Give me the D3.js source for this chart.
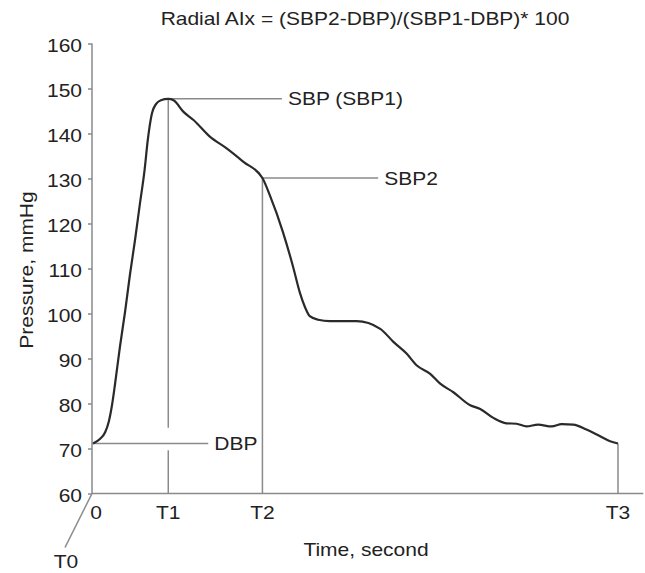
<!DOCTYPE html>
<html>
<head>
<meta charset="utf-8">
<script src="https://cdn.jsdelivr.net/npm/d3@7"></script>
<style>
  html, body { margin: 0; padding: 0; background: #fff; }
  svg { display: block; font-family: "Liberation Sans", Arial, Helvetica, sans-serif; }
</style>
</head>
<body>
<svg id="chart" width="645" height="573"></svg>
<script>
// pulse wave, time in fractions of the T0..T3 interval, pressure in mmHg
const time = [0.002, 0.015, 0.025, 0.032, 0.038, 0.044, 0.053, 0.063, 0.072, 0.082, 0.091, 0.100, 0.106,
  0.114, 0.122, 0.131, 0.145, 0.155, 0.174, 0.193, 0.224, 0.256, 0.288, 0.324, 0.338, 0.363, 0.382, 0.395,
  0.405, 0.414, 0.430, 0.452, 0.503, 0.548, 0.573, 0.598, 0.617, 0.643, 0.662, 0.687, 0.719, 0.738, 0.763,
  0.788, 0.807, 0.826, 0.848, 0.874, 0.893, 0.915, 0.940, 0.966, 0.985, 1.0];
const pressure = [71.1, 72.1, 73.6, 76.0, 79.6, 84.5, 92.5, 100.5, 108.5, 116.5, 124.3, 131.9, 138.5,
  144.5, 146.6, 147.4, 147.7, 147.4, 144.8, 143.0, 139.3, 136.7, 133.7, 130.1, 126.3, 118.1, 110.5, 104.7,
  101.4, 99.4, 98.6, 98.3, 98.3, 96.6, 93.7, 91.1, 88.5, 86.6, 84.4, 82.5, 79.6, 78.8, 76.8,
  75.6, 75.5, 74.9, 75.3, 74.9, 75.4, 75.3, 74.2, 72.7, 71.6, 71.1];

const yTicks = [60, 70, 80, 90, 100, 110, 120, 130, 140, 150, 160];
const xMarks = [{ t: 0, label: '0' }, { t: 0.145, label: 'T1' }, { t: 0.324, label: 'T2' }, { t: 1.0, label: 'T3' }];

// reference levels: name, value, time of the point, where the leader line ends
const levels = [
  { label: 'SBP (SBP1)', v: 147.7, t: 0.145, end: 0.361 },
  { label: 'SBP2', v: 130.1, t: 0.324, end: 0.544 },
  { label: 'DBP', v: 71.1, t: 0, end: 0.221 }
];

const TITLE = 'Radial AIx = (SBP2-DBP)/(SBP1-DBP)* 100';
const GREY = '#8a8a8a', INK = '#222';
const FS = 17.5, SX = 1.2;

const svg = d3.select('#chart');
const x = d3.scaleLinear().domain([0, 1]).range([92, 618]);
const y = d3.scaleLinear().domain([60, 160]).range([493.5, 43.5]);

function label(px, py, s, anchor, rot) {
  return svg.append('text')
    .attr('transform', `translate(${px},${py})${rot ? ` rotate(${rot})` : ''} scale(${SX},1)`)
    .attr('text-anchor', anchor || 'start')
    .attr('font-size', FS)
    .attr('fill', INK)
    .text(s);
}

// title + axis titles
label(365, 25, TITLE, 'middle');
label(366, 556, 'Time, second', 'middle');
label(33, 270, 'Pressure, mmHg', 'middle', -90);

// y axis
const yAxis = svg.append('g').attr('transform', `translate(${x(0)},0)`)
  .call(d3.axisLeft(y).tickValues(yTicks).tickSize(4).tickFormat(''));
yAxis.select('.domain').attr('d', `M0,${y(160)}V${y(60)}`);
yAxis.selectAll('path, line').attr('stroke', GREY).attr('stroke-width', 1.5);
yTicks.forEach(v => label(82, y(v) + 8, String(v), 'end'));

// x axis line
svg.append('line')
  .attr('x1', x(0)).attr('x2', x(1.048)).attr('y1', y(60)).attr('y2', y(60))
  .attr('stroke', GREY).attr('stroke-width', 1.5);
xMarks.forEach(m => label(m.t === 0 ? x(m.t) + 4 : x(m.t), 519, m.label, 'middle'));

// T0 leader going down-left from the origin
svg.append('line')
  .attr('x1', x(0)).attr('y1', y(60)).attr('x2', x(0) - 27).attr('y2', y(60) + 54)
  .attr('stroke', GREY).attr('stroke-width', 1.5);
label(66, 568, 'T0', 'middle');

// vertical markers at T1 (broken around the DBP line), T2, T3
const vl = (t, v0, v1) => svg.append('line')
  .attr('x1', x(t)).attr('x2', x(t)).attr('y1', y(v0)).attr('y2', y(v1))
  .attr('stroke', GREY).attr('stroke-width', 1.5);
vl(0.145, 147.7, 74.6);
vl(0.145, 69.6, 60);
vl(0.324, 130.1, 60);
vl(1.0, 71.1, 60);

// leader lines + labels
levels.forEach(l => {
  svg.append('line')
    .attr('x1', x(l.t)).attr('x2', x(l.end)).attr('y1', y(l.v)).attr('y2', y(l.v))
    .attr('stroke', GREY).attr('stroke-width', 1.5);
  label(x(l.end) + 6, y(l.v) + 6.5, l.label, 'start');
});

// the wave itself
const pts = time.map((t, i) => [t, pressure[i]]);
svg.append('path')
  .datum(pts)
  .attr('fill', 'none')
  .attr('stroke', '#2a2a2a')
  .attr('stroke-width', 2.2)
  .attr('stroke-linejoin', 'round')
  .attr('d', d3.line().x(d => x(d[0])).y(d => y(d[1])).curve(d3.curveMonotoneX));
</script>
</body>
</html>
